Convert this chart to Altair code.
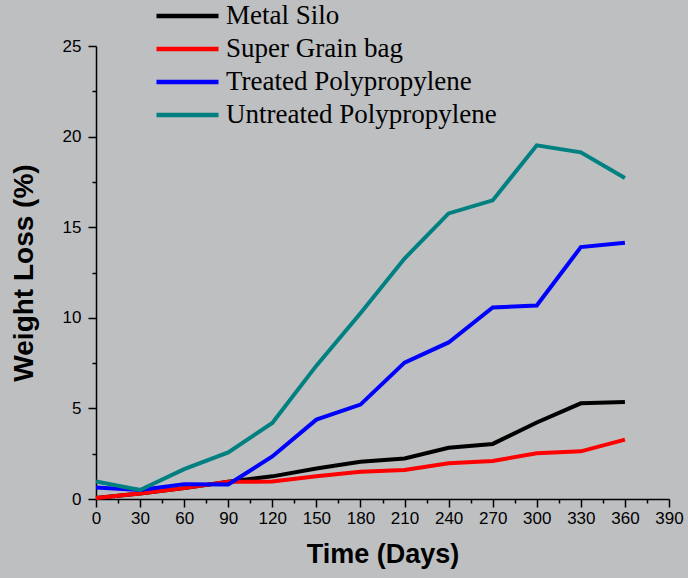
import altair as alt
import pandas as pd

days = [0, 30, 60, 90, 120, 150, 180, 210, 240, 270, 300, 330, 360]
metal_silo = [0.05, 0.3, 0.6, 0.95, 1.25, 1.68, 2.05, 2.24, 2.83, 3.04, 4.22, 5.28, 5.36]
super_grain_bag = [0.05, 0.3, 0.6, 0.95, 0.96, 1.25, 1.5, 1.6, 1.97, 2.1, 2.52, 2.63, 3.28]
treated_pp = [0.64, 0.5, 0.82, 0.8, 2.35, 4.38, 5.21, 7.53, 8.64, 10.57, 10.68, 13.9, 14.14]
untreated_pp = [0.97, 0.5, 1.65, 2.57, 4.2, 7.36, 10.25, 13.27, 15.76, 16.48, 19.52, 19.13, 17.71]

series_names = ["Metal Silo", "Super Grain bag", "Treated Polypropylene", "Untreated Polypropylene"]
series_colors = ["#000000", "#ff0000", "#0000ff", "#008080"]
x_tick_values = list(range(0, 391, 15))
y_tick_values = [0, 2.5, 5, 7.5, 10, 12.5, 15, 17.5, 20, 22.5, 25]

rows = []
for name, vals in zip(series_names, [metal_silo, super_grain_bag, treated_pp, untreated_pp]):
    for d, v in zip(days, vals):
        rows.append({"Days": d, "Loss": v, "Series": name, "order": series_names.index(name)})
df = pd.DataFrame(rows)

chart = alt.Chart(df).mark_line(strokeWidth=4, strokeJoin="miter").encode(
    x=alt.X("Days:Q",
            scale=alt.Scale(domain=[0, 390], nice=False, zero=False),
            axis=alt.Axis(
                title="Time (Days)",
                values=x_tick_values,
                labelExpr="datum.value % 30 === 0 ? datum.label : ''",
                tickSize={"condition": {"test": "datum.value % 30 === 0", "value": 8}, "value": 4},
                labelFlush=False, labelOverlap=False,
                grid=False, domainColor="#000000", domainWidth=1.5,
                tickColor="#000000", tickWidth=1.5,
                labelFont="Liberation Sans", labelFontSize=17, labelColor="#000000",
                labelPadding=3,
                titleFont="Liberation Sans", titleFontSize=27, titleFontWeight="bold",
                titleColor="#000000", titlePadding=15,
            )),
    y=alt.Y("Loss:Q",
            scale=alt.Scale(domain=[0, 25], nice=False, zero=False),
            axis=alt.Axis(
                title="Weight Loss (%)",
                values=y_tick_values,
                labelExpr="datum.value % 5 === 0 ? datum.label : ''",
                tickSize={"condition": {"test": "datum.value % 5 === 0", "value": 8}, "value": 4},
                labelFlush=False, labelOverlap=False,
                grid=False, domainColor="#000000", domainWidth=1.5,
                tickColor="#000000", tickWidth=1.5,
                labelFont="Liberation Sans", labelFontSize=17, labelColor="#000000",
                labelPadding=7,
                titleFont="Liberation Sans", titleFontSize=28, titleFontWeight="bold",
                titleColor="#000000", titlePadding=24,
            )),
    color=alt.Color("Series:N",
                    scale=alt.Scale(domain=series_names, range=series_colors),
                    legend=alt.Legend(
                        title=None, orient="none", legendX=58, legendY=-48,
                        padding=0, symbolType="M-1,0H3", symbolSize=961,
                        symbolStrokeWidth=4.5, labelFont="Liberation Serif",
                        labelFontSize=27, labelColor="#000000", labelOffset=36,
                        labelLimit=600, rowPadding=2,
                    )),
    order=alt.Order("order:Q"),
    detail="Series:N",
).properties(
    width=573, height=453,
    background="#bebfc1",
    padding={"left": 96, "top": 46, "right": 19, "bottom": 79},
    autosize=alt.AutoSizeParams(type="none"),
).configure_view(stroke=None)

chart.save("out.html", embed_options={"renderer": "svg", "actions": False})
